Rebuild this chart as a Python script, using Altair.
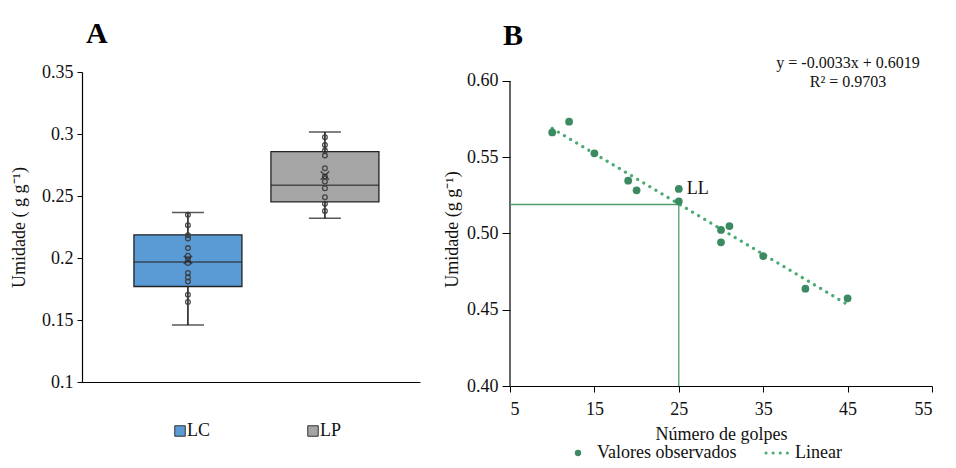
import altair as alt
import pandas as pd

FONT = "Liberation Serif"

# ---------- Panel A data ----------
groups = ["LC", "LP"]
box_colors = ["#5b9bd5", "#a5a5a5"]
wmin = [0.146, 0.2321]
q1 = [0.177, 0.2453]
median = [0.1967, 0.2587]
q3 = [0.2187, 0.2858]
wmax = [0.2367, 0.3017]
means = [0.1985, 0.2665]
lc_points = [0.2348, 0.2265, 0.2184, 0.2157, 0.208, 0.2018, 0.199, 0.196,
             0.188, 0.1843, 0.181, 0.1704, 0.1645]
lp_points = [0.2974, 0.2912, 0.2866, 0.2826, 0.2724, 0.2657, 0.2617, 0.2563,
             0.249, 0.2437, 0.238]
a_ticks = [0.1, 0.15, 0.2, 0.25, 0.3, 0.35]

# ---------- Panel B data ----------
golpes = [10, 12, 15, 19, 20, 25, 25, 30, 30, 31, 35, 40, 45]
umidade = [0.5663, 0.5733, 0.5526, 0.5346, 0.5283, 0.5292, 0.5211,
           0.5023, 0.4942, 0.5049, 0.4852, 0.4638, 0.4575]
trend_x = [10, 45]
trend_y = [0.5689, 0.4534]
ll_x = 25
ll_y = 0.519
b_xticks = [5, 15, 25, 35, 45, 55]
b_yticks = [0.40, 0.45, 0.50, 0.55, 0.60]

# ================= Panel A =================
WA, HA = 338, 310
box_df = pd.DataFrame({"g": groups, "wmin": wmin, "q1": q1, "med": median,
                       "q3": q3, "wmax": wmax, "mean": means, "col": box_colors})
pts_df = pd.DataFrame({"g": ["LC"] * len(lc_points) + ["LP"] * len(lp_points),
                       "v": lc_points + lp_points})

xScaleA = alt.Scale(type="point", domain=groups, padding=0.7336, align=0.527)
xA = alt.X("g:N", scale=xScaleA,
           axis=alt.Axis(labels=False, ticks=False, title=None, domainColor="#000",
                         domainWidth=1.2, grid=False))
xA2 = alt.X("g:N", scale=xScaleA)
yScaleA = alt.Scale(domain=[0.1, 0.35], nice=False, zero=False)
yA = alt.Y("wmin:Q", scale=yScaleA,
           axis=alt.Axis(values=a_ticks, format="~g", title="Umidade ( g g⁻¹)",
                         grid=False, tickSize=5, labelPadding=4, titlePadding=13,
                         domainColor="#000", tickColor="#000", domainWidth=1.2,
                         labelFont=FONT, titleFont=FONT, labelFontSize=18, titleFontSize=18,
                         labelColor="#111", titleColor="#111", titleFontWeight="normal"))

base = alt.Chart(box_df)
whisk = base.mark_rule(color="#111", strokeWidth=1.5).encode(x=xA, y=yA, y2="wmax:Q")
caps_lo = base.mark_tick(color="#111", size=32, thickness=1.5, orient="horizontal").encode(
    x=xA2, y=alt.Y("wmin:Q", scale=yScaleA))
caps_hi = base.mark_tick(color="#111", size=32, thickness=1.5, orient="horizontal").encode(
    x=xA2, y=alt.Y("wmax:Q", scale=yScaleA))
boxes = base.mark_bar(size=108, stroke="#222", strokeWidth=1.3).encode(
    x=xA2, y=alt.Y("q1:Q", scale=yScaleA), y2="q3:Q",
    fill=alt.Fill("col:N", scale=None))
med = base.mark_tick(color="#222", size=108, thickness=1.5, orient="horizontal").encode(
    x=xA2, y=alt.Y("med:Q", scale=yScaleA))
pts = alt.Chart(pts_df).mark_point(shape="circle", filled=False, size=22, stroke="#3a3a3a",
                                   strokeWidth=1.3, opacity=0.9).encode(
    x=xA2, y=alt.Y("v:Q", scale=yScaleA))
meanmk = base.mark_point(shape="M-1,-1L1,1M-1,1L1,-1", filled=False, size=70, stroke="#222",
                         strokeWidth=1.5).encode(
    x=xA2, y=alt.Y("mean:Q", scale=yScaleA))

leg_df = pd.DataFrame({"g": groups, "col": box_colors, "px": [98, 231]})
leg_sq = alt.Chart(leg_df).mark_square(size=110, stroke="#333", strokeWidth=1, opacity=1).encode(
    x=alt.X("px:Q", scale=None), y=alt.value(HA + 49), fill=alt.Fill("col:N", scale=None))
leg_tx = alt.Chart(leg_df).mark_text(align="left", baseline="middle", font=FONT, fontSize=18,
                                     color="#111", dx=7).encode(
    x=alt.X("px:Q", scale=None), y=alt.value(HA + 49), text="g:N")
titleA = alt.Chart(pd.DataFrame({"t": ["A"]})).mark_text(
    align="left", baseline="alphabetic", font=FONT, fontSize=30, fontWeight="bold",
    color="#000").encode(x=alt.value(4), y=alt.value(-29), text="t:N")

panelA = alt.layer(whisk, caps_lo, caps_hi, boxes, med, pts, meanmk, leg_sq, leg_tx, titleA).properties(
    width=WA, height=HA)

# ================= Panel B =================
WB, HB = 422, 314
xScaleB = alt.Scale(domain=[5, 55], nice=False, zero=False)
yScaleB = alt.Scale(domain=[0.40, 0.6059], nice=False, zero=False)
obs_df = pd.DataFrame({"x": golpes, "y": umidade})
tr_df = pd.DataFrame({"x": trend_x, "y": trend_y})

xB = alt.X("x:Q", scale=xScaleB,
           axis=alt.Axis(values=b_xticks, format="d", title="Número de golpes", grid=False,
                         tickSize=6, labelPadding=8, titlePadding=7, domainColor="#000",
                         tickColor="#000", domainWidth=1.2,
                         labelFont=FONT, titleFont=FONT, labelFontSize=18, titleFontSize=18,
                         labelColor="#111", titleColor="#111", titleFontWeight="normal"))
yB = alt.Y("y:Q", scale=yScaleB,
           axis=alt.Axis(values=b_yticks, format=".2f", title="Umidade (g g⁻¹)", grid=False,
                         tickSize=8, labelPadding=4, titlePadding=5, domain=False,
                         tickColor="#000",
                         labelFont=FONT, titleFont=FONT, labelFontSize=18, titleFontSize=18,
                         labelColor="#111", titleColor="#111", titleFontWeight="normal"))

yaxis_line = alt.Chart(pd.DataFrame({"x": [5], "y": [b_yticks[0]], "y2": [b_yticks[-1]]})).mark_rule(
    color="#000", strokeWidth=1.2).encode(x=alt.X("x:Q", scale=xScaleB),
                                         y=alt.Y("y:Q", scale=yScaleB), y2="y2:Q")
ll_h = alt.Chart(pd.DataFrame({"x": [5], "x2": [ll_x], "y": [ll_y]})).mark_rule(
    color="#4f9e6a", strokeWidth=1.3).encode(x=alt.X("x:Q", scale=xScaleB), x2="x2:Q",
                                            y=alt.Y("y:Q", scale=yScaleB))
ll_v = alt.Chart(pd.DataFrame({"x": [ll_x], "y": [0.40], "y2": [ll_y]})).mark_rule(
    color="#4f9e6a", strokeWidth=1.3).encode(x=alt.X("x:Q", scale=xScaleB),
                                            y=alt.Y("y:Q", scale=yScaleB), y2="y2:Q")
trend = alt.Chart(tr_df).mark_line(color="#4aab73", strokeWidth=3.2, strokeDash=[0.1, 7],
                                   strokeCap="round").encode(x=xB, y=yB)
obs = alt.Chart(obs_df).mark_circle(size=60, color="#3b8a62", opacity=1).encode(
    x=alt.X("x:Q", scale=xScaleB), y=alt.Y("y:Q", scale=yScaleB))
ll_lab = alt.Chart(pd.DataFrame({"x": [ll_x], "y": [0.5292], "t": ["LL"]})).mark_text(
    align="left", baseline="middle", font=FONT, fontSize=18, color="#111", dx=8).encode(
    x=alt.X("x:Q", scale=xScaleB), y=alt.Y("y:Q", scale=yScaleB), text="t:N")

eq_df = pd.DataFrame({"t": ["y = -0.0033x + 0.6019", "R² = 0.9703"], "py": [-4, 15]})
eq = alt.Chart(eq_df).mark_text(align="center", baseline="alphabetic", font=FONT, fontSize=16,
                                color="#111").encode(
    x=alt.value(338), y=alt.Y("py:Q", scale=None), text="t:N")
titleB = alt.Chart(pd.DataFrame({"t": ["B"]})).mark_text(
    align="left", baseline="alphabetic", font=FONT, fontSize=30, fontWeight="bold",
    color="#000").encode(x=alt.value(-7), y=alt.value(-27), text="t:N")

legB_dot = alt.Chart(pd.DataFrame({"k": ["Valores observados"]})).mark_circle(
    size=40, color="#3b8a62", opacity=1).encode(x=alt.value(68), y=alt.value(381))
legB_dot_t = alt.Chart(pd.DataFrame({"k": ["Valores observados"]})).mark_text(
    align="left", baseline="middle", font=FONT, fontSize=18, color="#111").encode(
    x=alt.value(87), y=alt.value(381), text="k:N")
legB_line = alt.Chart(pd.DataFrame({"k": ["Linear"]})).mark_rule(
    color="#4aab73", strokeWidth=3, strokeDash=[0.1, 7], strokeCap="round").encode(
    x=alt.value(256), x2=alt.value(282), y=alt.value(381))
legB_line_t = alt.Chart(pd.DataFrame({"k": ["Linear"]})).mark_text(
    align="left", baseline="middle", font=FONT, fontSize=18, color="#111").encode(
    x=alt.value(285), y=alt.value(381), text="k:N")

panelB = alt.layer(yaxis_line, ll_h, ll_v, trend, obs, ll_lab, eq, titleB,
                   legB_dot, legB_dot_t, legB_line, legB_line_t).properties(width=WB, height=HB)

chart = alt.hconcat(panelA, panelB, spacing=23).resolve_scale(
    x="independent", y="independent").properties(
    padding={"left": 10, "top": 19, "right": 5, "bottom": 0}, background="white"
).configure_view(stroke=None)

chart.save("out.html", embed_options={"renderer": "svg", "actions": False})
